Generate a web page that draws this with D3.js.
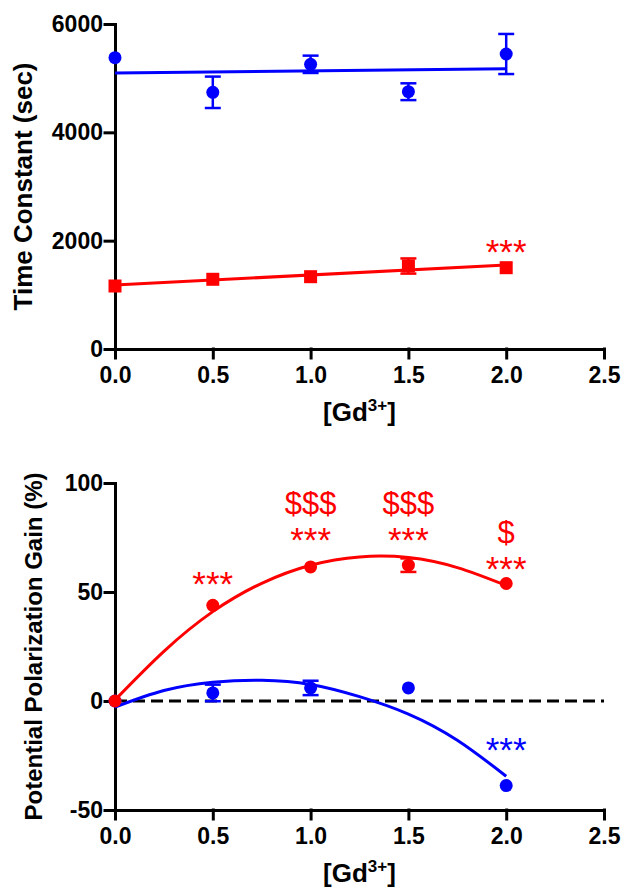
<!DOCTYPE html>
<html>
<head>
<meta charset="utf-8">
<script src="https://cdn.jsdelivr.net/npm/d3@7"></script>
<style>
    body { margin: 0; background: #fff; }
    svg { display: block; font-family: "Liberation Sans", Arial, Helvetica, sans-serif; }
    .axis path, .axis line { stroke: #000; stroke-width: 3; stroke-linecap: square; }
    .axis text { font-size: 23px; font-weight: bold; fill: #000; }
</style>
</head>
<body>
<svg id="chart" width="625" height="888"></svg>
<script>
// Gd3+ concentration for every measurement
const doses = [0, 0.5, 1.0, 1.5, 2.0];
const xTicks = [0, 0.5, 1.0, 1.5, 2.0, 2.5];

// top panel: time constants (sec)
const tauBlue = [5378, 4739, 5256, 4750, 5446];
const tauBlueErr = [0, 290, 160, 155, 370];
const tauRed = [1163, 1287, 1335, 1532, 1501];
const tauRedErr = [0, 0, 0, 140, 0];
const tauTicks = [0, 2000, 4000, 6000];
// linear fits, read at both ends
const tauFitX = [0, 2.0];
const tauBlueFit = [5095, 5175];
const tauRedFit = [1182, 1551];

// bottom panel: potential polarization gain (%)
const gainBlue = [0, 3.7, 6.0, 6.0, -38.8];
const gainBlueErr = [0, 3.8, 3.3, 0, 0];
const gainRed = [0, 43.9, 61.5, 62.3, 53.9];
const gainRedErr = [0, 0, 0, 3.1, 0];
const gainTicks = [-50, 0, 50, 100];
// quadratic fit curves
const gainFitX = [0, 0.25, 0.5, 0.75, 1.0, 1.25, 1.5, 1.75, 2.0];
const gainRedFit = [0.5, 22.8, 41, 54, 62.3, 66.1, 65.8, 61.2, 53];
const gainBlueFit = [-2.8, 4.8, 8.6, 9.5, 7.6, 2.0, -6.0, -18, -34.5];

// significance marks (x, y in data units)
const tauMarks = [{x: 2.0, y: 1920, label: '***', color: 'red'}];
const gainMarks = [
    {x: 0.5, y: 56.9, label: '***', color: 'red'},
    {x: 1.0, y: 77, label: '***', color: 'red'},
    {x: 1.0, y: 90.7, label: '$$$', color: 'red'},
    {x: 1.5, y: 77, label: '***', color: 'red'},
    {x: 1.5, y: 90.7, label: '$$$', color: 'red'},
    {x: 2.0, y: 64, label: '***', color: 'red'},
    {x: 2.0, y: 77.4, label: '$', color: 'red'},
    {x: 2.0, y: -19, label: '***', color: 'blue'}
];

const BLUE = '#0000ff';
const RED = '#ff0000';

let svg = d3.select('#chart');

let x = d3.scaleLinear().domain([0, 2.5]).range([115, 604]);

let drawPanel = (opts) => {
    let y = d3.scaleLinear().domain(opts.domain).range(opts.range);
    let g = svg.append('g');

    // axes
    g.append('g')
        .attr('class', 'axis')
        .attr('transform', 'translate(0,' + y(opts.domain[0]) + ')')
        .call(d3.axisBottom(x).tickValues(xTicks).tickFormat(d3.format('.1f'))
            .tickSize(9).tickSizeOuter(0).tickPadding(9));

    // plain hyphen for negatives, like the original
    g.append('g')
        .attr('class', 'axis')
        .attr('transform', 'translate(' + x(0) + ',0)')
        .call(d3.axisLeft(y).tickValues(opts.ticks).tickFormat(d => String(d))
            .tickSize(10).tickSizeOuter(0).tickPadding(2));

    // axis titles
    g.append('text')
        .attr('transform', 'translate(' + opts.titleX + ',' + (opts.range[0] + opts.range[1]) / 2 + ') rotate(-90)')
        .attr('text-anchor', 'middle')
        .attr('font-size', opts.titleSize)
        .attr('font-weight', 'bold')
        .text(opts.title);

    let xt = g.append('text')
        .attr('x', (x.range()[0] + x.range()[1]) / 2)
        .attr('y', y(opts.domain[0]) + 72)
        .attr('text-anchor', 'middle')
        .attr('font-size', 26)
        .attr('font-weight', 'bold');
    xt.append('tspan').text('[Gd');
    xt.append('tspan').attr('dy', -10).attr('font-size', 17).text('3+');
    xt.append('tspan').attr('dy', 10).text(']');

    // dashed zero line
    if (opts.zeroLine) {
        g.append('line')
            .attr('x1', x(0)).attr('x2', x(2.5))
            .attr('y1', y(0)).attr('y2', y(0))
            .attr('stroke', '#000')
            .attr('stroke-width', 3)
            .attr('stroke-dasharray', '12,6');
    }

    opts.series.forEach(s => {
        // fit line
        let fit = s.fitX.map((d, i) => ({x: d, y: s.fit[i]}));
        g.append('path')
            .datum(fit)
            .attr('fill', 'none')
            .attr('stroke', s.color)
            .attr('stroke-width', 3)
            .attr('d', d3.line().x(d => x(d.x)).y(d => y(d.y)).curve(d3.curveNatural));

        let pts = doses.map((d, i) => ({x: d, y: s.values[i], e: s.err[i]}));

        // error bars
        let eb = g.append('g').attr('stroke', s.color).attr('stroke-width', 2.5);
        pts.filter(d => d.e > 0).forEach(d => {
            eb.append('line').attr('x1', x(d.x)).attr('x2', x(d.x))
                .attr('y1', y(d.y - d.e)).attr('y2', y(d.y + d.e));
            [d.y - d.e, d.y + d.e].forEach(v => {
                eb.append('line').attr('x1', x(d.x) - 8).attr('x2', x(d.x) + 8)
                    .attr('y1', y(v)).attr('y2', y(v));
            });
        });

        // markers
        if (s.shape === 'square') {
            g.selectAll(null).data(pts).enter().append('rect')
                .attr('x', d => x(d.x) - 6.5).attr('y', d => y(d.y) - 6.5)
                .attr('width', 13).attr('height', 13)
                .attr('fill', s.color);
        } else {
            g.selectAll(null).data(pts).enter().append('circle')
                .attr('cx', d => x(d.x)).attr('cy', d => y(d.y))
                .attr('r', 6.5)
                .attr('fill', s.color);
        }
    });

    // significance marks, placed by glyph centre
    opts.marks.forEach(m => {
        let star = m.label.indexOf('*') >= 0;
        let fs = star ? 35 : 31;
        g.append('text')
            .attr('x', x(m.x))
            .attr('y', y(m.y) + (star ? 0.553 : 0.333) * fs)
            .attr('text-anchor', 'middle')
            .attr('font-size', fs)
            .attr('fill', m.color === 'red' ? RED : BLUE)
            .text(m.label);
    });
};

drawPanel({
    domain: [0, 6000],
    range: [349, 24],
    ticks: tauTicks,
    title: 'Time Constant (sec)',
    titleX: 32,
    titleSize: 26,
    zeroLine: false,
    marks: tauMarks,
    series: [
        {values: tauBlue, err: tauBlueErr, fitX: tauFitX, fit: tauBlueFit, color: BLUE, shape: 'circle'},
        {values: tauRed, err: tauRedErr, fitX: tauFitX, fit: tauRedFit, color: RED, shape: 'square'}
    ]
});

drawPanel({
    domain: [-50, 100],
    range: [810, 483],
    ticks: gainTicks,
    title: 'Potential Polarization Gain (%)',
    titleX: 42,
    titleSize: 24,
    zeroLine: true,
    marks: gainMarks,
    series: [
        {values: gainBlue, err: gainBlueErr, fitX: gainFitX, fit: gainBlueFit, color: BLUE, shape: 'circle'},
        {values: gainRed, err: gainRedErr, fitX: gainFitX, fit: gainRedFit, color: RED, shape: 'circle'}
    ]
});
</script>
</body>
</html>
